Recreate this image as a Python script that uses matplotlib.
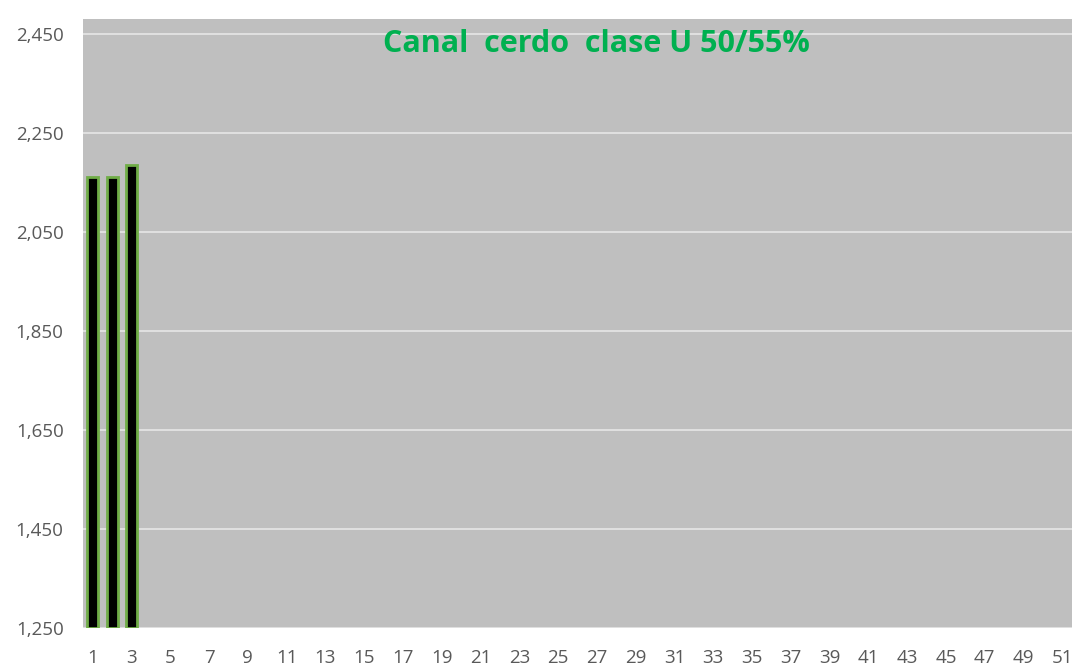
import numpy as np
import matplotlib.pyplot as plt

# semanas y precios (solo hay datos en las 3 primeras)
semanas = list(range(1, 52))
precios = [2160, 2160, 2185]
titulo = 'Canal  cerdo  clase U 50/55%'
yticks = [1250, 1450, 1650, 1850, 2050, 2250, 2450]

plt.rcParams['font.family'] = ['Open Sans', 'DejaVu Sans']

fig = plt.figure(figsize=(10.73, 6.67), dpi=100)
ax = fig.add_axes([83/1073, 1 - 628/667, 989/1073, (628 - 19)/667])
ax.set_facecolor('#BFBFBF')

x = np.arange(len(semanas))
ax.bar(x[:len(precios)], np.array(precios) - 1250, bottom=1250, width=0.57,
       color='black', edgecolor='#70AD47', linewidth=2, zorder=3)

ax.set_xlim(-0.5, len(semanas) - 0.5)
ax.set_ylim(1250, 2480)
ax.set_yticks(yticks)
ax.set_yticklabels([f'{v:,}' for v in yticks])
ax.set_xticks(x[::2])
ax.set_xticklabels([str(s) for s in semanas[::2]])
ax.grid(axis='y', color='#E6E6E6', linewidth=1.2, zorder=1)
ax.set_axisbelow(True)
for s in ax.spines.values():
    s.set_visible(False)
ax.tick_params(length=0, colors='#595959', labelsize=13.5)
ax.tick_params(axis='x', pad=15)
ax.tick_params(axis='y', pad=14)

fig.text(596/1073, 1 - 44/667, titulo, color='#00B050', fontsize=22,
         fontweight='bold', ha='center', va='center')

fig.savefig('out.png', dpi=100)
